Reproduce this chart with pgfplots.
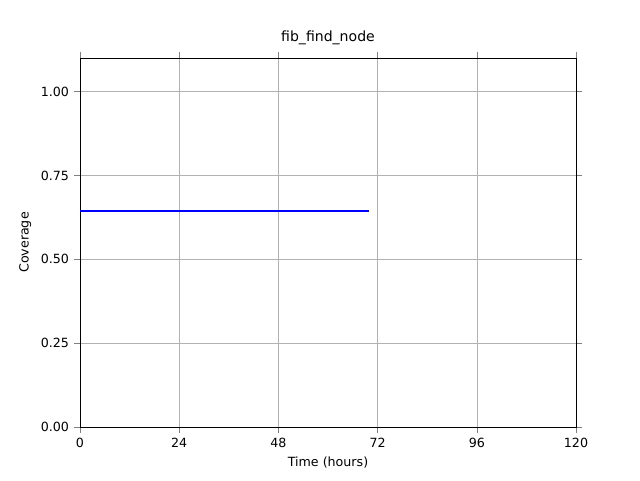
\documentclass[border=0pt]{standalone}
\usepackage{pgfplots}
\pgfplotsset{compat=1.18}
\usepackage{fontspec}
\setmainfont{DejaVu Sans}
\begin{document}
\begin{tikzpicture}
\path[use as bounding box] (0,0) rectangle (16cm,12cm);
\begin{axis}[at={(2cm,1.325cm)},anchor=south west,scale only axis,
width=12.4cm,height=9.225cm,
xmin=0,xmax=120,ymin=0,ymax=1.1,
xtick={0,24,48,72,96,120},ytick={0,0.25,0.5,0.75,1.0},
yticklabel style={/pgf/number format/.cd,fixed,fixed zerofill,precision=2},
/pgf/number format/assume math mode=true,
grid=major,grid style={gray!60},
tick label style={font=\small},label style={font=\small},
tick align=outside,
title={fib\_find\_node},
xlabel={Time (hours)},ylabel={Coverage}]
\addplot[blue,line width=1.5pt] coordinates {(0,0.643) (70,0.643)};
\end{axis}
\end{tikzpicture}
\end{document}
